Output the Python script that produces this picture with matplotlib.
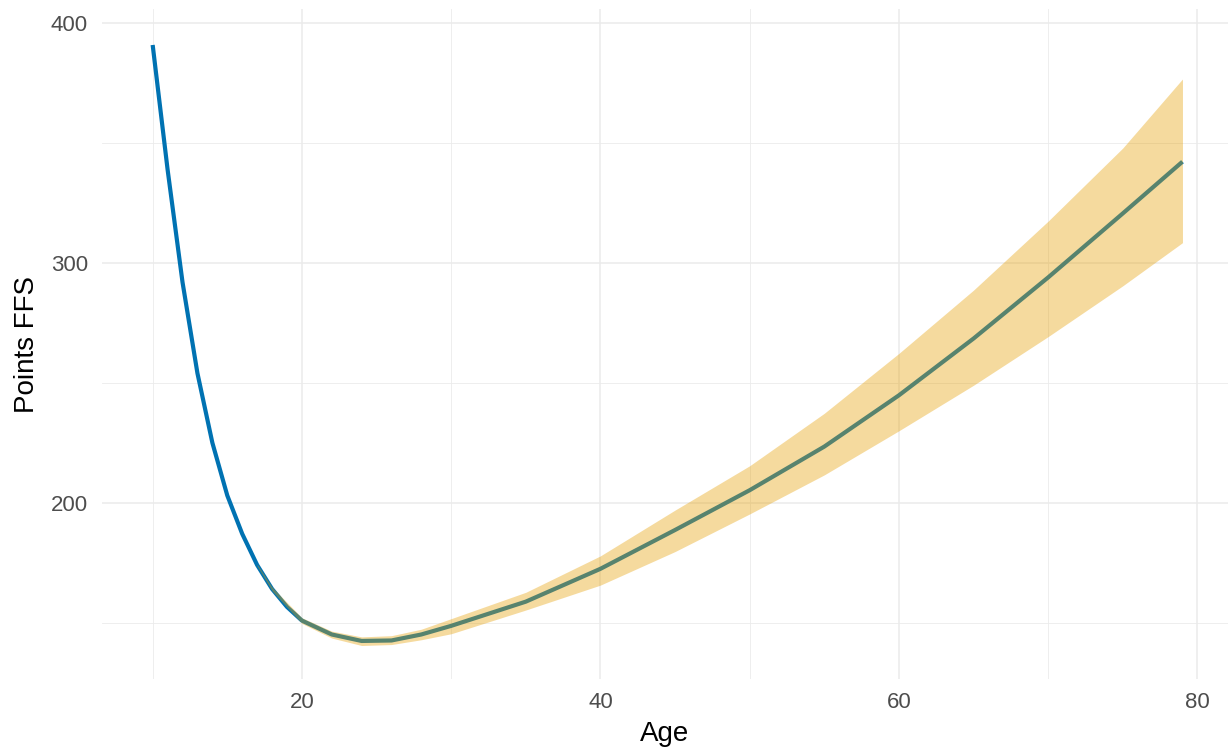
import numpy as np
import matplotlib
matplotlib.use("Agg")
import matplotlib.pyplot as plt
from matplotlib.ticker import MultipleLocator

# fitted curve
age = [10, 11, 12, 13, 14, 15, 16, 17, 18, 19, 20, 22, 24, 26, 28, 30,
       35, 40, 45, 50, 55, 60, 65, 70, 75, 79]
points = [391, 339, 292, 254, 225, 203, 187, 174, 164, 156.5, 150.8, 145, 142.3, 142.5, 145, 148.6,
          158.7, 172.4, 188.6, 205.2, 223.4, 244.8, 268.5, 294, 320.7, 342.3]

# confidence band, only from age 17 on
band_age = [17, 18, 20, 22, 24, 26, 28, 30, 35, 40, 45, 50, 55, 60, 65, 70, 75, 79]
band_low = [173.6, 163.2, 149.6, 143.5, 140.4, 140.8, 142.8, 145.3, 155.2, 165.6, 179.6, 195.3,
            211.6, 230.0, 249.0, 269.3, 290.5, 308.5]
band_high = [174.4, 164.8, 152.0, 146.4, 144.0, 144.5, 147.2, 151.6, 162.6, 177.8, 196.9, 215.4,
             237.3, 262.3, 288.7, 317.5, 348.0, 376.8]

plt.rcParams['font.family'] = ['Liberation Sans', 'DejaVu Sans']

fig = plt.figure(figsize=(12.28, 7.52), dpi=100)
ax = fig.add_axes([0.083, 0.097, 0.917, 0.891])

ax.plot(age, points, color='#0072B2', lw=3.0, solid_capstyle='butt', zorder=3)
ax.fill_between(band_age, band_low, band_high, color='#E69F00', alpha=0.38, lw=0, zorder=4)

ax.set_xlim(6.6, 82.05)
ax.set_ylim(126.4, 406)
ax.xaxis.set_major_locator(MultipleLocator(20))
ax.xaxis.set_minor_locator(MultipleLocator(10))
ax.yaxis.set_major_locator(MultipleLocator(100))
ax.yaxis.set_minor_locator(MultipleLocator(50))

# minimal theme look
for s in ax.spines.values():
    s.set_visible(False)
ax.grid(which='major', color='#EBEBEB', lw=1.1)
ax.grid(which='minor', color='#EBEBEB', lw=0.6)
ax.set_axisbelow(True)
ax.tick_params(which='both', length=0)
ax.tick_params(axis='y', pad=10, labelsize=16, labelcolor='#4D4D4D')
ax.tick_params(axis='x', pad=9, labelsize=16, labelcolor='#4D4D4D')

ax.set_xlabel('Age', fontsize=20, labelpad=6)
ax.set_ylabel('Points FFS', fontsize=20, labelpad=8)

fig.savefig('out.png', dpi=100)
